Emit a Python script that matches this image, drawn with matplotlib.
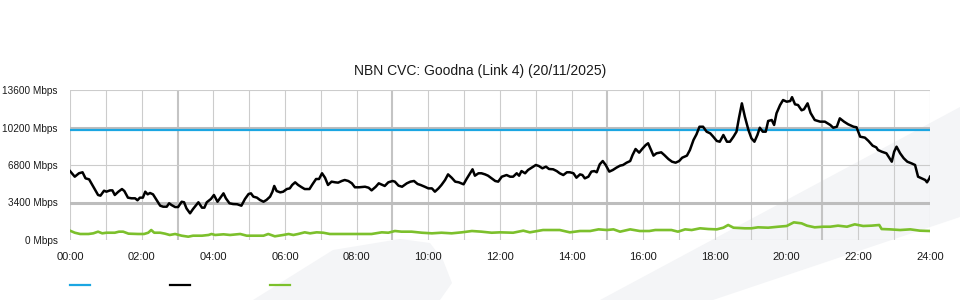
import matplotlib
matplotlib.use("Agg")
import matplotlib.pyplot as plt
from matplotlib.patches import Polygon
from matplotlib.lines import Line2D
import numpy as np

plt.rcParams['font.family'] = ['Liberation Sans', 'DejaVu Sans']

title = "NBN CVC: Goodna (Link 4) (20/11/2025)"

# capacity of the link (Mbps)
capacity = 10000

# traffic, minutes after midnight -> Mbps
traffic_min = [0, 8, 15, 21, 26, 32, 39, 47, 51, 57, 61, 67, 71, 75, 81, 87, 91, 97,
               103, 109, 113, 117, 122, 126, 130, 134, 139, 145, 151, 156, 162, 166,
               170, 176, 181, 187, 191, 195, 201, 206, 215, 221, 225, 229, 236, 241,
               247, 251, 257, 261, 267, 273, 280, 287, 293, 299, 303, 307, 313, 318,
               324, 329, 335, 339, 342, 346, 352, 357, 363, 368, 372, 377, 382, 388,
               393, 401, 406, 412, 417, 422, 427, 432, 438, 444, 449, 455, 460, 466,
               472, 477, 484, 494, 500, 505, 512, 517, 523, 527, 533, 540, 544, 550,
               556, 564, 570, 576, 582, 587, 594, 600, 606, 611, 617, 622, 628, 633,
               639, 645, 651, 659, 664, 670, 674, 678, 684, 689, 695, 700, 706, 712,
               717, 723, 731, 737, 742, 748, 752, 756, 762, 767, 773, 780, 785, 791,
               797, 802, 809, 815, 820, 826, 832, 837, 843, 848, 854, 858, 862, 868,
               873, 878, 882, 887, 892, 897, 903, 909, 915, 921, 926, 932, 938, 942,
               947, 953, 958, 964, 968, 977, 982, 990, 995, 1002, 1008, 1014, 1020,
               1025, 1033, 1038, 1044, 1049, 1054, 1060, 1066, 1072, 1077, 1083, 1088,
               1094, 1100, 1105, 1111, 1116, 1120, 1125, 1130, 1136, 1141, 1146, 1151,
               1155, 1160, 1165, 1169, 1175, 1179, 1183, 1189, 1194, 1200, 1206, 1209,
               1214, 1219, 1225, 1229, 1235, 1240, 1247, 1256, 1264, 1273, 1278, 1284,
               1289, 1296, 1303, 1312, 1317, 1323, 1331, 1337, 1344, 1350, 1353, 1359,
               1367, 1376, 1380, 1384, 1390, 1396, 1402, 1409, 1415, 1420, 1426, 1432,
               1435, 1439, 1440]
traffic_mbps = [6250, 5740, 6050, 6140, 5590, 5500, 4830, 4080, 4020, 4470, 4380, 4500,
                4500, 4080, 4380, 4620, 4440, 3840, 3780, 3780, 3600, 3840, 3840, 4380,
                4140, 4260, 4140, 3630, 3110, 3020, 3020, 3330, 3170, 2990, 2990, 3470,
                3420, 2870, 2420, 2810, 3420, 2930, 2930, 3420, 3720, 4080, 3470, 3780,
                4230, 3780, 3330, 3260, 3240, 3110, 3720, 4170, 4230, 3930, 3840, 3630,
                3470, 3630, 3930, 4380, 4900, 4440, 4320, 4380, 4620, 4680, 4990, 5230,
                4990, 4780, 4620, 4620, 5050, 5530, 5530, 6050, 5650, 4990, 5290, 5230,
                5200, 5350, 5440, 5350, 5140, 4780, 4780, 4830, 4740, 4500, 4830, 5140,
                4990, 4900, 5230, 5350, 5290, 4930, 4830, 5140, 5290, 5350, 5080, 4990,
                4830, 4680, 4680, 4380, 4680, 4990, 5440, 5950, 5650, 5290, 5230, 5050,
                5530, 6050, 6410, 5830, 6050, 6050, 5950, 5830, 5590, 5350, 5290, 5740,
                5890, 5740, 5740, 6050, 5830, 6250, 6050, 6350, 6560, 6800, 6710, 6500,
                6650, 6440, 6410, 6250, 6050, 5890, 6140, 6140, 6050, 5650, 5950, 5890,
                5590, 5740, 6200, 6250, 6140, 6860, 7160, 6800, 6200, 6350, 6560, 6740,
                6800, 7010, 7160, 7710, 8250, 7920, 8250, 8610, 8770, 7650, 7860, 7950,
                7710, 7340, 7100, 7010, 7160, 7460, 7650, 8160, 9070, 9580, 10270, 10270,
                9820, 9670, 9370, 8980, 8910, 9520, 8910, 8910, 9370, 9820, 11030, 12390,
                11180, 9970, 9220, 8910, 9520, 10180, 9820, 9820, 10790, 10880, 10430,
                11490, 12240, 12690, 12540, 12600, 12950, 12300, 12240, 11760, 11850,
                12390, 11520, 10880, 10730, 10730, 10430, 10180, 10270, 11030, 10730,
                10490, 10270, 10220, 9370, 9280, 8980, 8550, 8400, 8160, 8010, 7860,
                7100, 8010, 8460, 7860, 7410, 7100, 6950, 6800, 5740, 5590, 5440, 5230,
                5590, 5740]

# second series (green), minutes -> Mbps
green_min = [0, 8, 17, 31, 39, 47, 54, 61, 75, 82, 89, 98, 114, 124, 131, 136, 141, 151,
             159, 167, 176, 187, 198, 206, 221, 232, 237, 243, 257, 268, 285, 296, 324,
             332, 343, 357, 366, 374, 382, 393, 402, 413, 424, 435, 452, 484, 505, 522,
             533, 544, 555, 572, 589, 606, 622, 639, 656, 673, 689, 706, 720, 742, 759,
             770, 792, 820, 837, 854, 871, 885, 899, 910, 921, 938, 954, 970, 980, 1007,
             1018, 1030, 1041, 1055, 1069, 1083, 1094, 1102, 1111, 1130, 1141, 1152,
             1169, 1186, 1200, 1212, 1225, 1234, 1247, 1261, 1273, 1286, 1301, 1314,
             1328, 1342, 1355, 1359, 1373, 1390, 1407, 1423, 1440]
green_mbps = [845, 660, 545, 545, 605, 755, 605, 660, 660, 755, 755, 575, 545, 545, 660,
              905, 660, 660, 575, 455, 545, 390, 300, 390, 390, 455, 545, 455, 515, 455,
              545, 390, 390, 545, 335, 455, 545, 455, 545, 695, 605, 695, 660, 545, 545,
              545, 545, 695, 660, 815, 755, 755, 660, 605, 660, 605, 695, 815, 755, 660,
              695, 660, 845, 695, 905, 905, 695, 815, 815, 965, 905, 965, 755, 965, 815,
              815, 905, 905, 755, 965, 905, 1060, 995, 965, 1115, 1360, 1115, 1060, 1060,
              1150, 1115, 1205, 1270, 1600, 1510, 1300, 1150, 1205, 1205, 1300, 1205,
              1420, 1270, 1300, 1360, 995, 965, 905, 965, 845, 815]

y_ticks = [0, 3400, 6800, 10200, 13600]
x_tick_hours = list(range(0, 25, 2))

fig = plt.figure(figsize=(9.6, 3.0), dpi=100)

# faint background watermark shapes (behind the axes)
wm = '#f4f5f7'
fig.patches.append(Polygon([(253/960, 0), (333/960, 50/300), (400/960, 61/300),
                            (430/960, 57/300), (443/960, 40/300), (452/960, 17/300),
                            (440/960, 0)], closed=True, transform=fig.transFigure,
                           facecolor=wm, edgecolor='none', zorder=-5))
fig.patches.append(Polygon([(600/960, 0), (960/960, 193/300), (960/960, 83/300),
                            (713/960, 0)], closed=True, transform=fig.transFigure,
                           facecolor=wm, edgecolor='none', zorder=-5))

ax = fig.add_axes([70/960, 0.2, 860/960, 0.5])
ax.set_zorder(1)
ax.set_facecolor('none')
ax.set_xlim(0, 24)
ax.set_ylim(0, 13600)
for s in ax.spines.values():
    s.set_visible(False)

# grid
for h in range(25):
    thick = h in (3, 9, 15, 21)
    ax.axvline(h, color='#c4c4c4' if thick else '#cccccc', lw=1.5 if thick else 0.8, zorder=0)
for v in y_ticks:
    thick = v in (3400, 10200)
    ax.axhline(v, color='#bdbdbd' if thick else '#cccccc', lw=2.2 if thick else 0.8, zorder=0)

ax.axhline(capacity, color='#1ba6e2', lw=1.6, zorder=2)
ax.plot(np.array(green_min) / 60, green_mbps, color='#7cc02c', lw=1.9, zorder=3)
ax.plot(np.array(traffic_min) / 60, traffic_mbps, color='black', lw=1.8, zorder=4)

ax.set_yticks(y_ticks)
ax.set_yticklabels(['%d Mbps' % v for v in y_ticks])
ax.set_xticks(x_tick_hours)
ax.set_xticklabels(['%02d:00' % h for h in x_tick_hours])
ax.tick_params(length=0, labelsize=8, colors='#1a1a1a', pad=9)
ax.tick_params(axis='y', labelsize=7.2, pad=9)

fig.text(480/960, 1 - 71/300, title, ha='center', va='center', fontsize=10, color='#1a1a1a')

# legend swatches (no labels)
for x0, c in ((70, '#1ba6e2'), (170, 'black'), (270, '#7cc02c')):
    fig.add_artist(Line2D([x0/960, (x0+20)/960], [15/300, 15/300], color=c, lw=1.6))

fig.savefig('out.png', dpi=100)
